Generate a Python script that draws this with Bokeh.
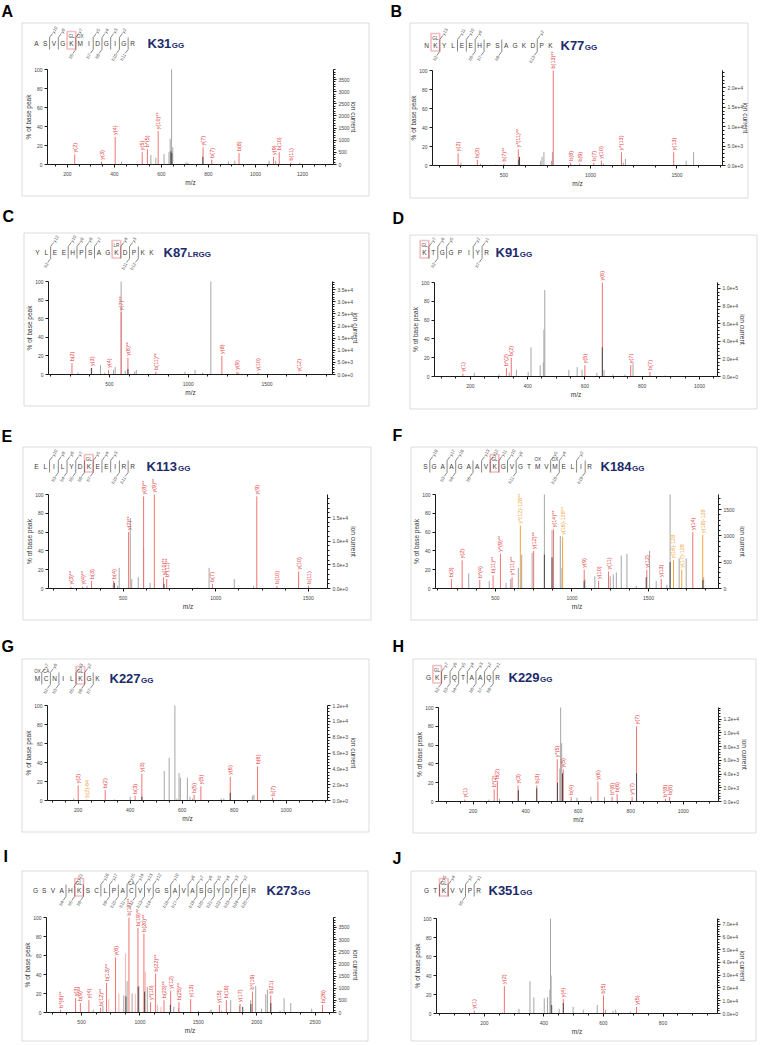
import math
from bokeh.plotting import figure
from bokeh.models import (Range1d, LinearAxis, FixedTicker, Label, LabelSet, ColumnDataSource,
                          BoxAnnotation, Arrow, CustomJSTickFormatter)
from bokeh.layouts import column, row
from bokeh.embed import file_html
from bokeh.resources import INLINE
from bokeh.core.properties import value

FONT = "Liberation Sans"
RED_LINE = "#F27272"
RED_TEXT = "#E43A3A"
GREY_LINE = "#A6A6A6"
DARK_LINE = "#4A4A4A"
ORANGE = "#F3A53A"
NAVY = "#1D2B6B"

# ---------------- Panel A ----------------
A_SEQ = "ASVGKMIDGIGR"
A_SITE, A_SUFFIX = "K31", "GG"
A_MODS = [(4, "GL"), (5, "OX")]
A_KIDX = 4
A_YIONS = [10, 9, 7, 5, 4, 3, 2]
A_BIONS = [5, 7, 8, 10, 11]
A_RED_MZ = [231, 345, 403, 518, 540, 586, 777, 814, 930, 1077, 1101, 1150]
A_RED_INT = [10.6, 3, 29, 13, 16, 35, 18, 5, 12, 8, 13, 2]
A_RED_LAB = ["y(2)", "y(3)", "y(4)", "y(5)", "b*(5)", "y(10)**", "y(7)", "b(7)", "b(8)", "y(9)", "b(10)", "b(11)"]
A_GREY_MZ = [643, 637, 648, 632, 555, 576, 611, 430, 705, 712, 885, 1189, 1058, 1086, 912]
A_GREY_INT = [100, 27, 18, 13, 10, 7, 11, 3, 2, 2, 3, 2, 4, 4, 4]
A_DARK_MZ = [776, 640, 644]
A_DARK_INT = [8, 14, 12]
A_XRANGE = (115, 1332)
A_XTICKS = [200, 400, 600, 800, 1000, 1200]
A_ION_MAX = 3914
A_ION_TICKS = [0, 500, 1000, 1500, 2000, 2500, 3000, 3500]

# ---------------- Panel B ----------------
B_SEQ = "NKYLEEHPSAGKDPK"
B_SITE, B_SUFFIX = "K77", "GG"
B_MODS = [(1, "GL")]
B_KIDX = 1
B_YIONS = [13, 11, 10, 9, 2]
B_BIONS = [2, 6, 7, 9, 13]
B_RED_MZ = [235, 346, 500, 583, 785, 885, 937, 1019, 1063, 1179, 1481]
B_RED_INT = [13, 6, 2, 17, 100, 3, 2, 3, 5, 14, 14]
B_RED_LAB = ["y(2)", "b(3)", "b(7)**", "y*(11)**", "b(13)**", "b(8)", "b(9)", "b(7)", "y(10)", "y*(13)", "y(13)"]
B_GREY_MZ = [731, 712, 720, 780, 775, 1202, 1596, 1553, 252, 365, 1075, 450, 1190]
B_GREY_INT = [14, 5, 9, 14, 5, 7, 14, 5, 3, 2, 2, 1, 3]
B_DARK_MZ = [590, 586]
B_DARK_INT = [9, 6]
B_XRANGE = (87, 1763)
B_XTICKS = [500, 1000, 1500]
B_ION_MAX = 24450
B_ION_TICKS = [0, 5000, 10000, 15000, 20000]

# ---------------- Panel C ----------------
C_SEQ = "YLEEHPSAGKDPKK"
C_SITE, C_SUFFIX = "K87", "LRGG"
C_MODS = [(9, "LR")]
C_KIDX = 9
C_YIONS = [12, 10, 9, 8, 7, 4, 3]
C_BIONS = [2, 11, 12]
C_RED_MZ = [262, 387, 494, 574, 617, 794, 1213, 1309, 1443, 1702]
C_RED_INT = [12, 7, 5, 67, 18, 3, 20, 3, 2, 1]
C_RED_LAB = ["b(2)", "y(3)", "y(4)", "y(7)**", "y(8)**", "b(11)**", "y(8)", "y(9)", "y(10)", "y(12)"]
C_GREY_MZ = [574, 1143, 443, 536, 525, 670, 660, 979, 1043, 1090, 1320, 600, 470, 300]
C_GREY_INT = [100, 100, 10, 8, 5, 5, 3, 3, 5, 2, 2, 4, 2, 2]
C_DARK_MZ = [385, 617]
C_DARK_INT = [7, 6]
C_XRANGE = (113, 1915)
C_XTICKS = [500, 1000, 1500]
C_ION_MAX = 38400
C_ION_TICKS = [0, 5000, 10000, 15000, 20000, 25000, 30000, 35000]

# ---------------- Panel D ----------------
D_SEQ = "KTGGPIYR"
D_SITE, D_SUFFIX = "K91", "GG"
D_MODS = [(0, "GL")]
D_KIDX = 0
D_YIONS = [7, 6, 5, 2, 1]
D_BIONS = [2, 7]
D_RED_MZ = [174, 326, 343, 600, 661, 760, 827]
D_RED_INT = [3, 9, 20, 12, 100, 12, 5]
D_RED_LAB = ["y(1)", "b*(2)", "b(2)", "y(5)", "y(6)", "y(7)", "b(7)"]
D_GREY_MZ = [460, 457, 412, 455, 444, 361, 544, 573, 590, 642, 768, 336, 214, 402, 667, 698, 300, 880, 740]
D_GREY_INT = [92, 50, 31, 15, 12, 7, 7, 10, 7, 4, 14, 4, 4, 5, 7, 2, 2, 1, 2]
D_DARK_MZ = [661]
D_DARK_INT = [31]
D_XRANGE = (75, 1063)
D_XTICKS = [200, 400, 600, 800, 1000]
D_ION_MAX = 106800
D_ION_TICKS = [0, 20000, 40000, 60000, 80000, 100000]

# ---------------- Panel E ----------------
E_SEQ = "ELILYDKEEIRR"
E_SITE, E_SUFFIX = "K113", "GG"
E_MODS = [(6, "GL")]
E_KIDX = 6
E_YIONS = [10, 9, 8, 7, 5, 4, 3]
E_BIONS = [3, 4, 5, 6, 7, 10, 11]
E_RED_MZ = [217, 280, 329, 448, 529, 610, 668, 718, 735, 982, 1222, 1331, 1448, 1502]
E_RED_INT = [2, 2, 8, 8, 60, 98, 100, 12, 10, 5, 98, 3, 18, 3]
E_RED_LAB = ["y(3)**", "y(4)**", "b(3)", "b(4)", "y(7)**", "y(8)**", "y(9)**", "y(10)**", "b*(11)**",
             "b(7)", "y(9)", "b(10)", "y(10)", "b(11)"]
E_GREY_MZ = [538, 610, 478, 964, 581, 1100, 645, 546, 446, 304, 1205, 900, 470]
E_GREY_INT = [75, 43, 22, 22, 12, 10, 6, 10, 4, 3, 3, 1, 3]
E_DARK_MZ = [452, 720]
E_DARK_INT = [6, 5]
E_XRANGE = (96, 1604)
E_XTICKS = [500, 1000, 1500]
E_ION_MAX = 19860
E_ION_TICKS = [0, 5000, 10000, 15000]

# ---------------- Panel F ----------------
F_SEQ = "SGAAGAAVKGVGTMVMELIR"
F_SITE, F_SUFFIX = "K184", "GG"
F_MODS = [(8, "GL"), (13, "OX"), (15, "OX")]
F_KIDX = 8
F_YIONS = [19, 17, 16, 13, 12, 11, 10, 9, 5, 4, 2]
F_BIONS = [3, 4, 6, 11, 16, 19]
F_RED_MZ = [213, 283, 398, 485, 533, 609, 750, 880, 1080, 1174, 1239, 1489, 1583, 1789]
F_RED_INT = [10, 30, 9, 14, 37, 12, 40, 63, 20, 8, 18, 20, 10, 60]
F_RED_LAB = ["b(3)", "y(2)", "b*(4)", "b(11)**", "y*(9)**", "y*(11)**", "y(12)**", "y(14)**",
             "y(9)", "y(10)", "y(11)", "y(12)", "y(13)", "y(14)"]
F_ORANGE_MZ = [663, 939, 1663, 1717, 1854]
F_ORANGE_INT = [67, 55, 30, 20, 57]
F_ORANGE_LAB = ["y*(12)-128**", "y(16)-128**", "y(16)-128", "y(17)-128", "y(18)-128"]
F_GREY_MZ = [820, 1641, 870, 924, 1322, 1359, 1507, 740, 672, 650, 935, 326, 1150, 1290, 1270, 1250,
             1085, 460, 570, 600, 1700, 1746, 1860, 1550, 1420, 1620]
F_GREY_INT = [100, 100, 62, 56, 35, 37, 40, 38, 36, 22, 22, 16, 13, 17, 15, 13,
              10, 8, 6, 10, 32, 32, 12, 8, 3, 4]
F_DARK_MZ = [820, 870, 1641, 1080, 1485, 1855]
F_DARK_INT = [36, 33, 28, 8, 12, 9]
F_XRANGE = (109, 1957)
F_XTICKS = [500, 1000, 1500]
F_ION_MAX = 1785
F_ION_TICKS = [0, 500, 1000, 1500]

# ---------------- Panel G ----------------
G_SEQ = "MCNILKGK"
G_SITE, G_SUFFIX = "K227", "GG"
G_MODS = [(5, "GL"), (0, "OX"), (1, "CA")]
G_KIDX = 5
G_YIONS = [7, 6, 3, 2]
G_BIONS = [2, 3, 5, 6, 7]
G_RED_MZ = [200, 304, 419, 445, 646, 672, 785, 890, 948]
G_RED_INT = [16, 11, 5, 28, 6, 15, 25, 36, 3]
G_RED_LAB = ["y(2)", "b(2)", "b(3)", "y(3)", "b(5)", "y(5)", "y(6)", "b(6)", "b(7)"]
G_ORANGE_MZ = [233]
G_ORANGE_INT = [1]
G_ORANGE_LAB = ["b(2)-64"]
G_GREY_MZ = [572, 550, 531, 588, 593, 620, 870, 876, 183, 400, 630, 640, 340, 580, 750, 760]
G_GREY_INT = [100, 45, 31, 29, 24, 24, 5, 6, 2, 4, 4, 2, 1, 2, 2, 2]
G_DARK_MZ = [785, 445]
G_DARK_INT = [8, 4]
G_XRANGE = (82, 1159)
G_XTICKS = [200, 400, 600, 800, 1000]
G_ION_MAX = 12000
G_ION_TICKS = [0, 2000, 4000, 6000, 8000, 10000, 12000]

# ---------------- Panel H ----------------
H_SEQ = "GKFQTAAQR"
H_SITE, H_SUFFIX = "K229", "GG"
H_MODS = [(1, "GL")]
H_KIDX = 1
H_YIONS = [7, 6, 5, 4, 3, 2, 1]
H_BIONS = [2, 3, 4, 6, 7, 8]
H_RED_MZ = [168, 280, 292, 371, 442, 520, 543, 573, 675, 729, 748, 805, 822, 932, 948]
H_RED_INT = [2, 13, 22, 17, 17, 45, 34, 5, 21, 5, 8, 5, 80, 3, 5]
H_RED_LAB = ["y(1)", "b*(2)", "b(2)", "y(3)", "b(3)", "y*(5)", "y(5)", "b(4)", "y(6)", "b*(6)", "b(6)",
             "y*(7)", "y(7)", "b*(8)", "b(8)"]
H_GREY_MZ = [533, 537, 530, 300, 260, 595, 648, 700]
H_GREY_INT = [100, 62, 35, 3, 2, 4, 5, 5]
H_DARK_MZ = [822, 372, 442, 521, 540]
H_DARK_INT = [30, 12, 14, 20, 30]
H_XRANGE = (68, 1134)
H_XTICKS = [200, 400, 600, 800, 1000]
H_ION_MAX = 13700
H_ION_TICKS = [0, 2000, 4000, 6000, 8000, 10000, 12000]

# ---------------- Panel I ----------------
I_SEQ = "GSVAHKSCLPACVYGSAVASGYDFER"
I_SITE, I_SUFFIX = "K273", "GG"
I_MODS = [(5, "GL"), (11, "CA")]
I_KIDX = 5
I_YIONS = [21, 18, 17, 15, 14, 13, 12, 10, 8, 7, 6, 5, 4, 3, 2]
I_BIONS = [4, 5, 6, 9, 10, 11, 12, 13, 14, 16, 17, 19, 20, 21, 22, 23, 24, 25]
I_RED_MZ = [320, 449, 490, 563, 663, 714, 791, 906, 983, 1034, 1091, 1134, 1206, 1263, 1334, 1434,
            1680, 1740, 1857, 1963, 2120, 2563]
I_RED_INT = [3, 15, 10, 13, 5, 31, 58, 100, 89, 83, 11, 41, 13, 23, 11, 14, 8, 13, 9, 22, 18, 8]
I_RED_LAB = ["b*(6)**", "y(3)", "b(9)**", "y(4)", "b(12)**", "b(13)**", "y(6)", "b(17)**", "b(19)**",
             "b(20)**", "y*(10)", "b(22)**", "b(23)**", "y(12)", "b(25)**", "y(13)", "y(15)", "b(16)",
             "y(17)", "b*(19)", "b(21)", "b(26)"]
I_PALE_MZ = [877, 1046, 733, 960, 1150, 1180, 820]
I_PALE_INT = [62, 43, 14, 20, 8, 6, 20]
I_GREY_MZ = [890, 991, 933, 862, 1063, 1777, 1991, 2077, 2091, 2234, 2291, 1948, 2040, 683, 1610,
             1853, 2470, 600, 1290, 1330, 1500, 2200, 1600, 1700]
I_GREY_INT = [33, 28, 20, 18, 27, 13, 28, 19, 24, 15, 10, 13, 4, 7, 3,
              7, 4, 3, 6, 5, 2, 2, 2, 2]
I_DARK_MZ = [880, 985, 1040, 1260, 1950, 2120, 1880]
I_DARK_INT = [17, 27, 22, 8, 9, 10, 6]
I_XRANGE = (200, 2657)
I_XTICKS = [500, 1000, 1500, 2000, 2500]
I_ION_MAX = 3911
I_ION_TICKS = [0, 500, 1000, 1500, 2000, 2500, 3000, 3500]

# ---------------- Panel J ----------------
J_SEQ = "GTKVVPR"
J_SITE, J_SUFFIX = "K351", "GG"
J_MODS = [(2, "GL")]
J_KIDX = 2
J_YIONS = [5, 4, 2, 1]
J_BIONS = [5]
J_RED_MZ = [166, 267, 465, 600, 711]
J_RED_INT = [3, 29, 15, 19, 7]
J_RED_LAB = ["y(1)", "y(2)", "y(4)", "b(5)", "y(5)"]
J_GREY_MZ = [422, 424, 420, 353, 366, 401, 412, 316, 451, 498, 532, 579, 607, 632, 641, 690, 260]
J_GREY_INT = [100, 40, 25, 34, 17, 16, 17, 5, 5, 7, 4, 9, 4, 3, 4, 2, 1]
J_DARK_MZ = [426, 465]
J_DARK_INT = [9, 11]
J_XRANGE = (39, 983)
J_XTICKS = [200, 400, 600, 800]
J_ION_MAX = 74500
J_ION_TICKS = [0, 10000, 20000, 30000, 40000, 50000, 60000, 70000]

SCI_JS = """
if (tick == 0) { return "0.0e+0"; }
var e = Math.floor(Math.log10(Math.abs(tick)) + 1e-9);
var m = tick / Math.pow(10, e);
return m.toFixed(1) + "e+" + e;
"""


def pdata(p):
    g = globals()
    d = dict(seq=g[p + "_SEQ"], site=g[p + "_SITE"], suffix=g[p + "_SUFFIX"], mods=g[p + "_MODS"],
             k=g[p + "_KIDX"], yions=g[p + "_YIONS"], bions=g[p + "_BIONS"],
             red=(g[p + "_RED_MZ"], g[p + "_RED_INT"], g[p + "_RED_LAB"]),
             grey=(g[p + "_GREY_MZ"], g[p + "_GREY_INT"]), dark=(g[p + "_DARK_MZ"], g[p + "_DARK_INT"]),
             xr=g[p + "_XRANGE"], xticks=g[p + "_XTICKS"], ion_max=g[p + "_ION_MAX"],
             ion_ticks=g[p + "_ION_TICKS"])
    if p + "_ORANGE_MZ" in g:
        d["orange"] = (g[p + "_ORANGE_MZ"], g[p + "_ORANGE_INT"], g[p + "_ORANGE_LAB"])
    if p + "_PALE_MZ" in g:
        d["pale"] = (g[p + "_PALE_MZ"], g[p + "_PALE_INT"])
    return d


# Page layout (absolute page pixels): axis positions, panel box, letter, sequence placement
GEOM = {
    "A": dict(L=47, R=333, Y100=69, Y0=164, box=(21, 22, 368, 195), let=(1, 5), seq=(36, 132, 43), site=147, ion_dx=20, sci=False),
    "B": dict(L=432, R=722, Y100=70, Y0=165, box=(409, 22, 747, 197), let=(390, 5), seq=(426, 550, 45), site=560, ion_dx=23, sci=True),
    "C": dict(L=48, R=332, Y100=281, Y0=374, box=(23, 232, 368, 405), let=(2, 210), seq=(37, 151, 252), site=163, ion_dx=23, sci=True),
    "D": dict(L=434, R=717, Y100=282, Y0=376, box=(409, 234, 756, 408), let=(392, 212), seq=(424, 486, 252), site=495, ion_dx=25, sci=True),
    "E": dict(L=48, R=327, Y100=494, Y0=588, box=(22, 446, 370, 619), let=(1, 430), seq=(36, 132, 466), site=146, ion_dx=26, sci=True),
    "F": dict(L=435, R=718, Y100=494, Y0=588, box=(410, 446, 756, 619), let=(392, 429), seq=(425, 589, 466), site=600, ion_dx=24, sci=False),
    "G": dict(L=47, R=327, Y100=705, Y0=800, box=(21, 658, 368, 831), let=(1, 640), seq=(37, 97, 678), site=109, ion_dx=26, sci=True),
    "H": dict(L=438, R=718, Y100=707, Y0=801, box=(412, 658, 755, 832), let=(392, 640), seq=(428, 497, 677), site=508, ion_dx=26, sci=True),
    "I": dict(L=46, R=333, Y100=917, Y0=1012, box=(21, 870, 367, 1040), let=(3, 850), seq=(35, 253, 890), site=266, ion_dx=22, sci=False),
    "J": dict(L=436, R=717, Y100=918, Y0=1013, box=(410, 870, 755, 1040), let=(392, 852), seq=(426, 478, 890), site=488, ion_dx=25, sci=True),
}
COLS = [(0, 380), (380, 380)]
ROWS = [(0, 206), (206, 214), (420, 212), (632, 213), (845, 198)]
ORDER = [("A", "B"), ("C", "D"), ("E", "F"), ("G", "H"), ("I", "J")]

BOLD_W = {"K": 0.722, "L": 0.611, "R": 0.722, "G": 0.778}


def text_w(s, fs):
    return sum(BOLD_W.get(ch, 0.556) for ch in s) * fs


def minor_ticks(ticks, rng, n):
    step = (ticks[1] - ticks[0]) / n
    out = []
    v = math.ceil(rng[0] / step) * step
    while v <= rng[1]:
        if all(abs(v - t) > 1e-6 for t in ticks):
            out.append(v)
        v += step
    return out


def style_axis(ax, standoff=2):
    ax.axis_line_color = "#1a1a1a"
    ax.axis_line_width = 1
    ax.major_tick_line_color = "#1a1a1a"
    ax.minor_tick_line_color = "#1a1a1a"
    ax.major_tick_out = 3
    ax.major_tick_in = 0
    ax.minor_tick_out = 2
    ax.minor_tick_in = 0
    ax.major_label_text_font = FONT
    ax.major_label_text_font_size = "5px"
    ax.major_label_text_color = "#444444"
    ax.major_label_standoff = standoff


def make_panel(key, ox, oy, CW, CH):
    c = pdata(key)
    g = GEOM[key]
    x0, x1 = c["xr"]
    L, R, Y100, Y0 = g["L"], g["R"], g["Y100"], g["Y0"]
    kx = (x1 - x0) / (R - L)          # data units per pixel (x)
    ky = 100.0 / (Y0 - Y100)          # percent per pixel (y)
    xr = (x0 - (L - ox) * kx, x0 + (ox + CW - L) * kx)
    yr = (-(oy + CH - Y0) * ky, (Y0 - oy) * ky)
    f = c["ion_max"] / 100.0

    p = figure(width=CW, height=CH, x_range=Range1d(*xr), y_range=Range1d(*yr),
               output_backend="svg", toolbar_location=None, tools="", min_border=0,
               min_border_left=0, min_border_right=0, min_border_top=0, min_border_bottom=0)
    p.grid.visible = False
    p.outline_line_color = None
    p.background_fill_color = "white"
    p.border_fill_color = "white"
    p.extra_y_ranges = {"ion": Range1d(yr[0] * f, yr[1] * f)}

    xa = p.below[0]
    ya = p.left[0]
    xa.ticker = FixedTicker(ticks=c["xticks"], minor_ticks=minor_ticks(c["xticks"], c["xr"], 4))
    xa.fixed_location = 0
    xa.bounds = (x0, x1)
    ya.ticker = FixedTicker(ticks=[0, 20, 40, 60, 80, 100], minor_ticks=[])
    ya.fixed_location = x0
    ya.bounds = (0, 100)
    it = c["ion_ticks"]
    rax = LinearAxis(y_range_name="ion",
                     ticker=FixedTicker(ticks=it, minor_ticks=minor_ticks(it, (0, c["ion_max"]), 5)),
                     bounds=(0, c["ion_max"]), fixed_location=x1)
    if g["sci"]:
        rax.formatter = CustomJSTickFormatter(code=SCI_JS)
    p.add_layout(rax, "right")
    style_axis(xa, 4)
    style_axis(ya, 2)
    style_axis(rax, 2)

    def peaks(mz, ints, color, lw=1.0):
        src = ColumnDataSource(dict(x=list(mz), y=list(ints), y0=[0] * len(mz)))
        p.segment(x0="x", y0="y0", x1="x", y1="y", source=src, line_color=color, line_width=lw)

    def plabels(mz, ints, labs, color):
        src = ColumnDataSource(dict(x=list(mz), y=list(ints), t=list(labs)))
        p.text(x="x", y="y", text="t", source=src, angle=math.pi / 2, text_align="left",
               text_baseline="middle", y_offset=-2, text_font_size=value("5.5px"),
               text_color=color, text_font=value(FONT))

    peaks(*c["grey"], GREY_LINE)
    if "pale" in c:
        peaks(*c["pale"], "#F7B5B5")
    peaks(*c["red"][:2], RED_LINE)
    if "orange" in c:
        peaks(*c["orange"][:2], ORANGE)
    peaks(*c["dark"], DARK_LINE)
    plabels(*c["red"], RED_TEXT)
    if "orange" in c:
        plabels(*c["orange"], ORANGE)

    # screen-unit helpers (frame == whole canvas)
    def SX(ax_):
        return ax_ - ox

    def SY(ay_):
        return oy + CH - ay_

    def lab(x, y, text, size, angle=0.0, align="center", baseline="middle", color="#333333", style="normal"):
        p.add_layout(Label(x=SX(x), y=SY(y), x_units="screen", y_units="screen", text=text,
                           text_font=FONT, text_font_size=size, text_font_style=style,
                           text_color=color, text_align=align, text_baseline=baseline, angle=angle))

    # axis titles
    lab(L - 19, (Y100 + Y0) / 2, "% of base peak", "6.5px", angle=math.pi / 2)
    lab((L + R) / 2, Y0 + 18, "m/z", "6.5px")
    lab(R + g["ion_dx"], (Y100 + Y0) / 2, "ion current", "6.5px", angle=-math.pi / 2)

    # ---- peptide sequence with fragment ladder ----
    seq = c["seq"]
    sx0, sx1, ly = g["seq"]
    n = len(seq)
    sp = (sx1 - sx0) / (n - 1)
    xc = [sx0 + i * sp for i in range(n)]
    lsrc = ColumnDataSource(dict(x=[SX(v) for v in xc], y=[SY(ly)] * n, t=list(seq)))
    p.add_layout(LabelSet(x="x", y="y", text="t", source=lsrc, x_units="screen", y_units="screen",
                          text_align="center", text_baseline="middle", text_font_size="6.5px",
                          text_color="#3a3a3a", text_font=value(FONT)))
    xs, ys, xe, ye = [], [], [], []
    tx, ty, tt = [], [], []
    bxs, bys, bts = [], [], []
    cuts = set()
    h = 6.0
    for yn in c["yions"]:
        i = n - yn
        if i < 1 or i >= n:
            continue
        cuts.add(i)
        bxl = (xc[i - 1] + xc[i]) / 2
        xs.append(SX(bxl)); ys.append(SY(ly - h)); xe.append(SX(bxl + 3)); ye.append(SY(ly - h - 4))
        tx.append(SX(bxl + 3.3)); ty.append(SY(ly - h - 4.5)); tt.append("y%d" % yn)
    for bn in c["bions"]:
        i = bn
        if i < 1 or i >= n:
            continue
        cuts.add(i)
        bxl = (xc[i - 1] + xc[i]) / 2
        xs.append(SX(bxl)); ys.append(SY(ly + h)); xe.append(SX(bxl - 3)); ye.append(SY(ly + h + 4))
        bxs.append(SX(bxl - 3.3)); bys.append(SY(ly + h + 4.5)); bts.append("b%d" % bn)
    for i in sorted(cuts):
        bxl = (xc[i - 1] + xc[i]) / 2
        xs.append(SX(bxl)); ys.append(SY(ly - h)); xe.append(SX(bxl)); ye.append(SY(ly + h))
    asrc = ColumnDataSource(dict(xs=xs, ys=ys, xe=xe, ye=ye))
    p.add_layout(Arrow(end=None, x_start="xs", y_start="ys", x_end="xe", y_end="ye",
                       start_units="screen", end_units="screen", source=asrc,
                       line_color="#555555", line_width=0.7))
    p.add_layout(LabelSet(x="x", y="y", text="t", source=ColumnDataSource(dict(x=tx, y=ty, t=tt)),
                          x_units="screen", y_units="screen", angle=math.pi / 3, text_align="left",
                          text_baseline="middle", text_font_size="4.5px", text_color="#555555",
                          text_font=value(FONT)))
    p.add_layout(LabelSet(x="x", y="y", text="t", source=ColumnDataSource(dict(x=bxs, y=bys, t=bts)),
                          x_units="screen", y_units="screen", angle=math.pi / 3, text_align="right",
                          text_baseline="middle", text_font_size="4.5px", text_color="#555555",
                          text_font=value(FONT)))
    mx = [SX(xc[i]) for i, _ in c["mods"]]
    my = [SY(ly - 7.5)] * len(c["mods"])
    mt = [m for _, m in c["mods"]]
    p.add_layout(LabelSet(x="x", y="y", text="t", source=ColumnDataSource(dict(x=mx, y=my, t=mt)),
                          x_units="screen", y_units="screen", text_align="center",
                          text_baseline="middle", text_font_size="4.5px", text_color="#444444",
                          text_font=value(FONT)))
    k = c["k"]
    p.add_layout(BoxAnnotation(left=SX(xc[k] - 4.3), right=SX(xc[k] + 4.3), top=SY(ly - 12),
                               bottom=SY(ly + 5.5), left_units="screen", right_units="screen",
                               top_units="screen", bottom_units="screen", fill_color=None,
                               line_color="#E0262B", line_width=1.7))
    lab(g["site"], ly, c["site"], "13px", align="left", color=NAVY, style="bold")
    lab(g["site"] + text_w(c["site"], 13) + 0.5, ly + 1.5, c["suffix"], "8px", align="left",
        color=NAVY, style="bold")

    # ---- panel frame box and panel letter ----
    bx0, by0, bx1, by1 = g["box"]
    p.add_layout(BoxAnnotation(left=SX(bx0) + 0.5, right=SX(bx1) + 0.5, top=SY(by0) - 0.5,
                               bottom=SY(by1) - 0.5,
                               left_units="screen", right_units="screen", top_units="screen",
                               bottom_units="screen", fill_color=None, line_color="#8c8c8c",
                               line_width=1))
    lx, lyy = g["let"]
    lab(lx, lyy - 3, key, "16px", align="left", baseline="top", color="#000000", style="bold")
    return p


rows = []
for (oy, CH), (kl, kr) in zip(ROWS, ORDER):
    pl = make_panel(kl, COLS[0][0], oy, COLS[0][1], CH)
    pr = make_panel(kr, COLS[1][0], oy, COLS[1][1], CH)
    rows.append(row(pl, pr, spacing=0))
layout = column(*rows, spacing=0)

open("out.html", "w").write(file_html(layout, INLINE))
